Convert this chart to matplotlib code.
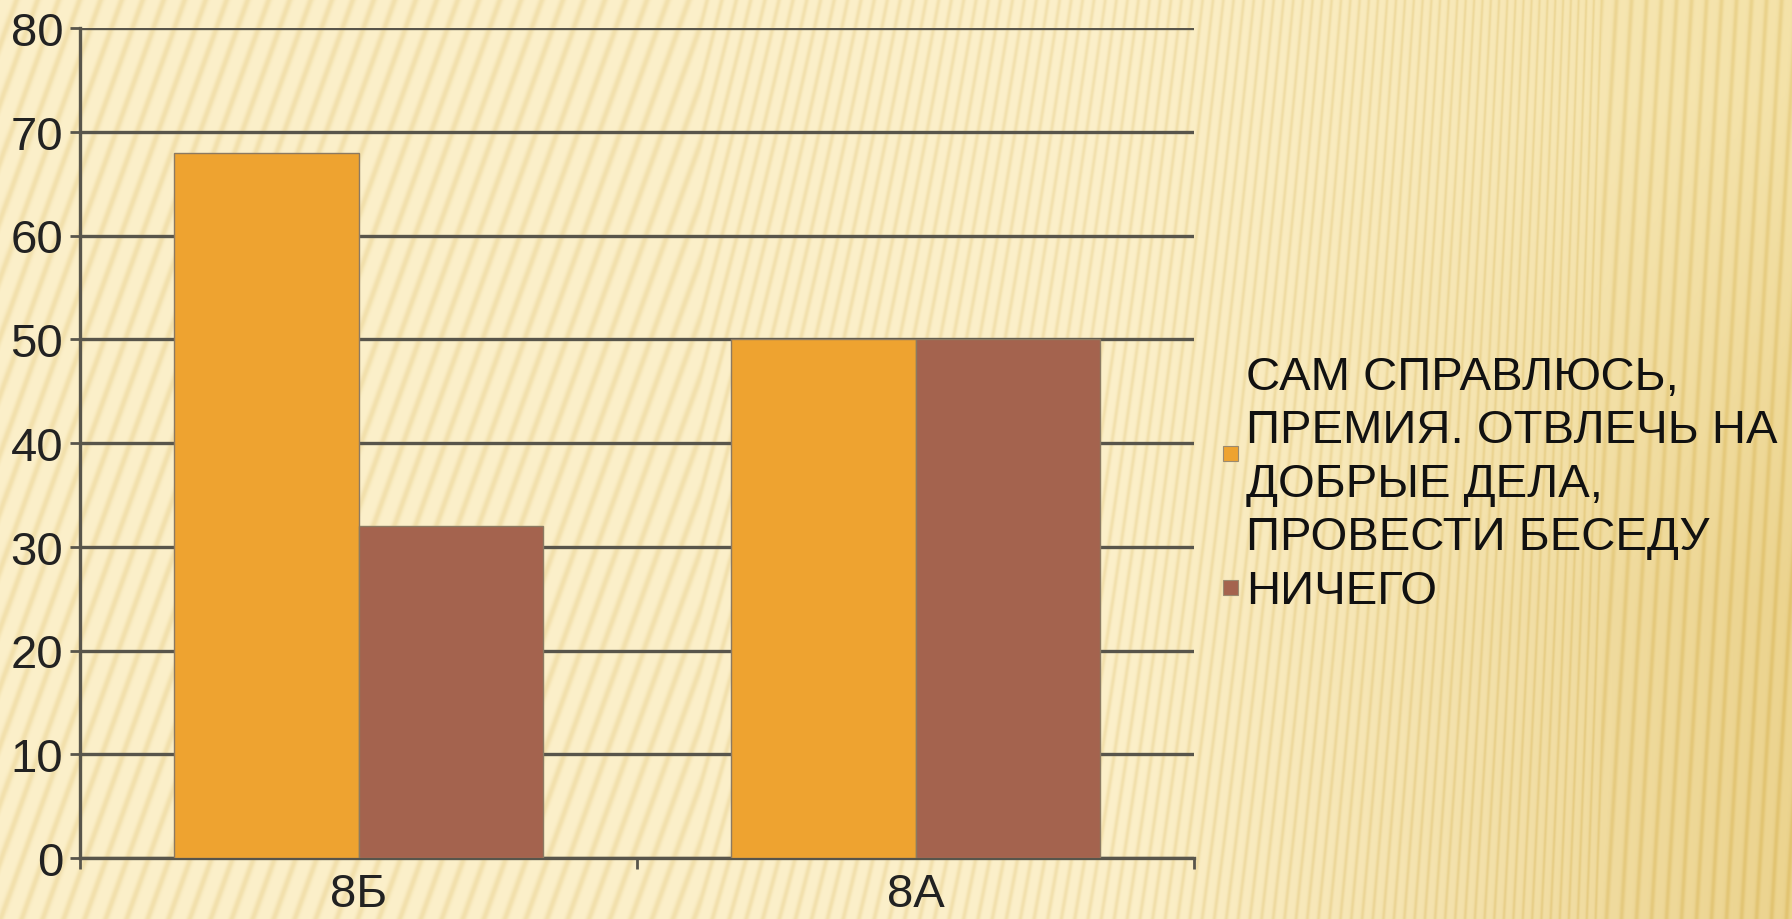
import numpy as np
import matplotlib
matplotlib.use("Agg")
import matplotlib.pyplot as plt
from matplotlib.patches import Rectangle

plt.rcParams['font.family'] = ['Liberation Sans', 'DejaVu Sans']

categories = ["8Б", "8А"]
series_names = ["САМ СПРАВЛЮСЬ,\nПРЕМИЯ. ОТВЛЕЧЬ НА\nДОБРЫЕ ДЕЛА,\nПРОВЕСТИ БЕСЕДУ", "НИЧЕГО"]
series_values = [[68, 50], [32, 50]]
colors = ["#EEA330", "#A4634E"]
yticks = [0, 10, 20, 30, 40, 50, 60, 70, 80]

W, H = 1792, 920
fig = plt.figure(figsize=(W / 100, H / 100), dpi=100)

# background texture (decorative)
bg = fig.add_axes([0, 0, 1, 1], zorder=-10)
yy, xx = np.mgrid[0:H, 0:W].astype(float)
t = np.clip((xx - 700) / 900, 0, 1)
slope = 0.36 * (1 - t) + 0.06 * t
period = 21 * (1 - t) + 15 * t
phase = (xx - (H - yy) * slope) / period
stripe = (0.5 + 0.5 * np.cos(2 * np.pi * phase)) ** 4
tt = np.clip((xx - 1100) / 700, 0, 1)
base = np.stack([252 - 8 * tt, 240 - 14 * tt, 202 - 34 * tt], axis=-1)
dark = np.clip((xx - 1150) / 600, 0, 1) * np.clip((yy - 150 + (xx - 1150) * 0.1) / 500, 0, 1)
base = base - dark[..., None] * np.array([8, 14, 25])
img = base - stripe[..., None] * np.array([10, 16, 30])
bg.imshow(np.clip(img, 0, 255).astype(np.uint8), aspect='auto', extent=[0, 1, 0, 1], interpolation='bilinear')
bg.axis('off')

ax = fig.add_axes([80 / W, 1 - 859 / H, (1194 - 80) / W, (859 - 29) / H])
ax.patch.set_alpha(0)

x = np.arange(len(categories))
bw = 0.331
for i, (name, vals) in enumerate(zip(series_names, series_values)):
    ax.bar(x + (i - 0.5) * bw, vals, width=bw, color=colors[i], edgecolor="#8C7A62",
           linewidth=1.0, zorder=3)

ax.set_xlim(-0.5, len(categories) - 0.5)
ax.set_ylim(0, 80)
ax.set_yticks(yticks)
ax.set_yticklabels([str(v) for v in yticks], fontsize=34, color="#222222")
ax.yaxis.grid(True, color="#58554b", linewidth=2.4, zorder=1)
ax.set_axisbelow(True)

ax.set_xticks(x)
ax.set_xticklabels(categories, fontsize=34, color="#222222")
ax.set_xticks(np.arange(-0.5, len(categories), 1.0), minor=True)
ax.tick_params(axis='x', which='major', length=0, pad=10)
ax.tick_params(axis='x', which='minor', length=8, width=2, color="#58554b", direction='out')
ax.tick_params(axis='y', length=7, width=2, color="#58554b", pad=5)

for s in ['top', 'right']:
    ax.spines[s].set_visible(False)
for s in ['left', 'bottom']:
    ax.spines[s].set_color("#58554b")
    ax.spines[s].set_linewidth(2.4)

# legend (manual)
line_step = 53.5
first_center = 373
cap_half = 17
marker_y = [454, 588]
k = 0
for i, name in enumerate(series_names):
    fig.patches.append(Rectangle((1223 / W, 1 - (marker_y[i] + 8) / H), 15 / W, 15 / H,
                                 transform=fig.transFigure, facecolor=colors[i],
                                 edgecolor="#9a8a70", linewidth=0.8))
    for line in name.split("\n"):
        yc = first_center + k * line_step
        fig.text(1246 / W, 1 - (yc + cap_half) / H, line, fontsize=34, color="#111111",
                 ha='left', va='baseline')
        k += 1

fig.savefig("out.png", dpi=100)
